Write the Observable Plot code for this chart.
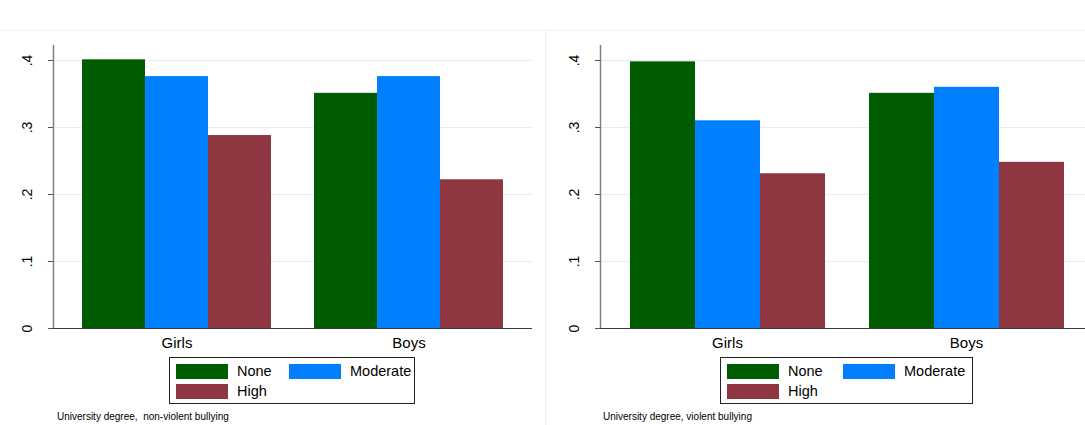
<!DOCTYPE html>
<html>
<head>
<meta charset="utf-8">
<script src="https://cdn.jsdelivr.net/npm/d3@7"></script>
<script src="https://cdn.jsdelivr.net/npm/@observablehq/plot@0.6"></script>
<style>
  html, body { margin: 0; padding: 0; background: #fff; }
  body { width: 1085px; height: 425px; overflow: hidden; position: relative; font-family: "Liberation Sans", Arial, sans-serif; }
  .layer { position: absolute; top: 0; width: 545px; height: 355px; }
  .layer svg { background: transparent !important; overflow: visible; max-width: none !important; }
  .legend { position: absolute; border: 1px solid #222; box-sizing: border-box; font-size: 14.5px; color: #000; }
  .sw { position: absolute; width: 52px; height: 15px; box-sizing: border-box; }
  .lt { position: absolute; line-height: 15px; }
  .caption { position: absolute; font-size: 10px; color: #000; white-space: pre; }
  .frameline { position: absolute; background: #eef2f4; }
</style>
</head>
<body>
<div id="fig"></div>
<script>
// ---- data ----
const groups = ["Girls", "Boys"];
const levels = ["None", "Moderate", "High"];
const levelColors = ["#005c00", "#0080ff", "#8f3740"];
// order: Girls None, Girls Moderate, Girls High, Boys None, Boys Moderate, Boys High
const nonViolentValues = [0.401, 0.376, 0.288, 0.351, 0.376, 0.222];
const violentValues = [0.398, 0.310, 0.231, 0.351, 0.360, 0.248];
const yTicks = [0, 0.1, 0.2, 0.3, 0.4];
const yTickLabels = ["0", ".1", ".2", ".3", ".4"];
const captions = ["University degree,  non-violent bullying", "University degree, violent bullying"];

const yMax = 0.4224;
const H = 355, MT = 45, MB = 27;

function rowsFor(values) {
  const rows = [];
  groups.forEach((g, gi) => levels.forEach((l, li) => rows.push({group: g, level: l, value: values[gi * 3 + li]})));
  return rows;
}

const panels = [
  {left: 0, width: 545, ml: 53, mr: 13, pi: 0.176, po: 0.116, values: nonViolentValues, caption: captions[0],
   legLeft: 169, legWidth: 246, col2: 119, capLeft: 57},
  {left: 547, width: 545, ml: 53, mr: 0, pi: 0.18, po: 0.1167, values: violentValues, caption: captions[1],
   legLeft: 720, legWidth: 253, col2: 122, capLeft: 603}
];

const fig = document.getElementById("fig");

// faint outer frame lines
const topLine = document.createElement("div");
topLine.className = "frameline"; topLine.style.cssText = "left:0;top:30px;width:1085px;height:1px;";
fig.appendChild(topLine);
const midLine = document.createElement("div");
midLine.className = "frameline"; midLine.style.cssText = "left:545px;top:30px;width:1px;height:395px;";
fig.appendChild(midLine);

panels.forEach(p => {
  const base = Plot.plot({
    width: p.width, height: H,
    marginTop: MT, marginBottom: MB, marginLeft: p.ml, marginRight: p.mr,
    style: {fontFamily: "Liberation Sans, Arial, sans-serif", background: "transparent", color: "#000"},
    x: {domain: [0, 1], axis: null},
    y: {domain: [0, yMax], axis: null},
    marks: [
      Plot.ruleY(yTicks.slice(1), {stroke: "#e6edf0", strokeWidth: 1}),
      Plot.ruleY([0], {stroke: "#3a3a3a", strokeWidth: 1.2}),
      Plot.ruleX([0], {stroke: "#7f7f7f", strokeWidth: 1.5}),
      Plot.axisY({ticks: yTicks, tickSize: 5, tickFormat: () => "", label: null, stroke: "#555"}),
      Plot.text(yTicks, {y: d => d, text: (d, i) => yTickLabels[i], frameAnchor: "left", dx: -26, rotate: -90,
                         textAnchor: "middle", fontSize: 14, fill: "#000"})
    ]
  });
  const bars = Plot.plot({
    width: p.width, height: H,
    marginTop: MT, marginBottom: MB, marginLeft: p.ml, marginRight: p.mr,
    style: {fontFamily: "Liberation Sans, Arial, sans-serif", background: "transparent", color: "#000"},
    fx: {domain: groups, paddingInner: p.pi, paddingOuter: p.po, label: null},
    x: {domain: levels, padding: 0, axis: null},
    y: {domain: [0, yMax], axis: null},
    color: {domain: levels, range: levelColors},
    marks: [
      Plot.barY(rowsFor(p.values), {fx: "group", x: "level", y: "value", fill: "level"}),
      Plot.axisFx({anchor: "bottom", tickSize: 0, tickPadding: 9, fontSize: 15, label: null, fill: "#000"})
    ]
  });
  [base, bars].forEach(svg => {
    const d = document.createElement("div");
    d.className = "layer";
    d.style.left = p.left + "px";
    d.appendChild(svg);
    fig.appendChild(d);
  });

  // legend
  const leg = document.createElement("div");
  leg.className = "legend";
  leg.style.cssText = `left:${p.legLeft}px;top:357px;width:${p.legWidth}px;height:47px;`;
  const pos = [[6, 6], [p.col2, 6], [6, 26]];
  levels.forEach((l, i) => {
    const sw = document.createElement("div");
    sw.className = "sw";
    sw.style.cssText = `left:${pos[i][0]}px;top:${pos[i][1]}px;background:${levelColors[i]};`;
    leg.appendChild(sw);
    const t = document.createElement("div");
    t.className = "lt";
    t.style.cssText = `left:${pos[i][0] + 61}px;top:${pos[i][1]}px;`;
    t.textContent = l;
    leg.appendChild(t);
  });
  fig.appendChild(leg);

  const cap = document.createElement("div");
  cap.className = "caption";
  cap.style.cssText = `left:${p.capLeft}px;top:411px;`;
  cap.textContent = p.caption;
  fig.appendChild(cap);
});
</script>
</body>
</html>
